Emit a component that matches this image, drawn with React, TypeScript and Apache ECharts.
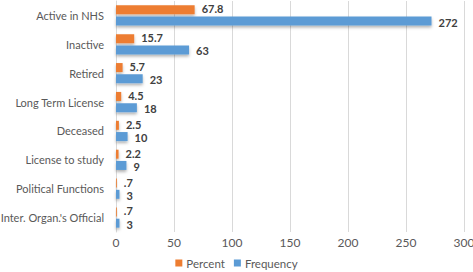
import React, { useEffect, useRef } from "react";
import * as echarts from "echarts";

const categories = [
  "Active in NHS",
  "Inactive",
  "Retired",
  "Long Term License",
  "Deceased",
  "License to study",
  "Political Functions",
  "Inter. Organ.'s Official",
];
const percentValues = [67.8, 15.7, 5.7, 4.5, 2.5, 2.2, 0.7, 0.7];
const frequencyValues = [272, 63, 23, 18, 10, 9, 3, 3];
const xTicks = [0, 50, 100, 150, 200, 250, 300];

const fmt = (v: number) => {
  const s = String(v);
  return s.startsWith("0.") ? s.slice(1) : s;
};

export default function App() {
  const ref = useRef<HTMLDivElement>(null);
  useEffect(() => {
    if (!ref.current) return;
    const chart = echarts.init(ref.current, undefined, { renderer: "svg" });
    const font = "Lato";
    const labelStyle = (dy: number) => ({
      show: true,
      position: "right" as const,
      distance: 7,
      offset: [0, dy],
      color: "#404040",
      fontWeight: "bold" as const,
      fontSize: 11,
      fontFamily: font,
      formatter: (p: any) => fmt(p.value),
    });
    chart.setOption({
      animation: false,
      backgroundColor: "#fff",
      grid: {
        left: 116,
        right: 9,
        top: 1,
        bottom: 40,
        containLabel: false,
        outerBoundsMode: "none",
      },
      legend: {
        bottom: -2,
        left: "center",
        itemWidth: 7,
        itemHeight: 7,
        itemGap: 9,
        icon: "rect",
        textStyle: { color: "#595959", fontSize: 11.5, fontFamily: font, padding: [0, 0, 0, -1] },
        data: ["Percent", "Frequency"],
      },
      xAxis: {
        type: "value",
        min: xTicks[0],
        max: xTicks[xTicks.length - 1],
        interval: 50,
        axisLine: { show: false },
        axisTick: { show: false },
        splitLine: { lineStyle: { color: "#d9d9d9", width: 1 } },
        axisLabel: { color: "#595959", fontSize: 12, fontFamily: font, margin: 4 },
      },
      yAxis: {
        type: "category",
        inverse: true,
        data: categories,
        axisLine: { show: true, lineStyle: { color: "#d9d9d9" } },
        axisTick: { show: false },
        axisLabel: { color: "#595959", fontSize: 11, fontFamily: font, margin: 12 },
      },
      series: [
        {
          name: "Percent",
          type: "bar",
          data: percentValues,
          barWidth: 9,
          barGap: "25%",
          itemStyle: {
            color: "#ED7D31",
            shadowColor: "rgba(0,0,0,0.3)",
            shadowBlur: 3,
            shadowOffsetY: 2,
          },
          label: labelStyle(-1),
        },
        {
          name: "Frequency",
          type: "bar",
          data: frequencyValues,
          barWidth: 9,
          itemStyle: {
            color: "#5B9BD5",
            shadowColor: "rgba(0,0,0,0.3)",
            shadowBlur: 3,
            shadowOffsetY: 2,
          },
          label: labelStyle(1),
        },
      ],
    });
    return () => chart.dispose();
  }, []);
  return (
    <div
      ref={ref}
      style={{ position: "absolute", left: 0, top: 0, width: 473, height: 272 }}
    />
  );
}
